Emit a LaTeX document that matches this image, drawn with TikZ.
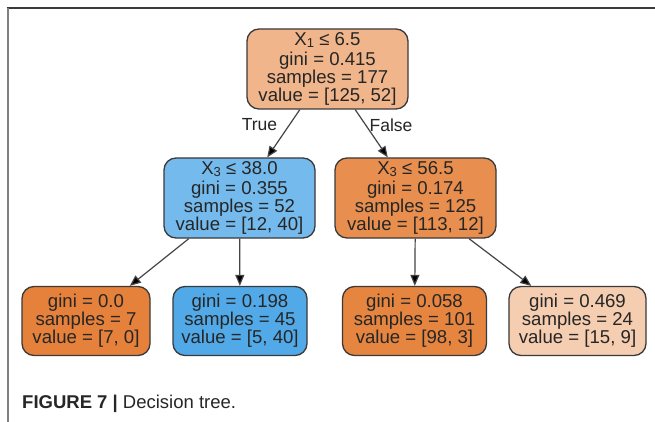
\documentclass[tikz,border=0pt]{standalone}
\usepackage{fontspec}
\setmainfont{Liberation Sans}
\usetikzlibrary{arrows.meta}
\definecolor{croot}{HTML}{F0B58B}
\definecolor{cleft}{HTML}{74BAED}
\definecolor{cright}{HTML}{E88E4E}
\definecolor{cla}{HTML}{E5813A}
\definecolor{clb}{HTML}{52A9E8}
\definecolor{clc}{HTML}{E6853F}
\definecolor{cld}{HTML}{F5CDB0}
\definecolor{bordc}{HTML}{3A3A3A}
\definecolor{txtc}{HTML}{262626}
\definecolor{edgec}{HTML}{444444}
\newcommand{\subnum}[1]{\raisebox{-2pt}{\fontsize{13}{13}\selectfont #1}}
\begin{document}
\begin{tikzpicture}[x=1pt,y=-1pt,
  tn/.style={draw=bordc, line width=1.3pt, rounded corners=12pt, align=center,
    font=\fontsize{18.6}{18}\selectfont, text=txtc, inner sep=0pt, minimum height=80pt},
  leafbox/.style={tn, minimum height=69pt},
  arr/.style={draw=edgec, line width=1.2pt, -{Triangle[length=11pt,width=9pt,fill=black]}},
  elabel/.style={font=\fontsize{17.5}{17.5}\selectfont, text=txtc, inner sep=0pt}
]
\useasboundingbox (0,0) rectangle (655,422);
\fill[white] (0,0) rectangle (655,422);
\draw[line width=1.5pt, color=bordc] (6.5,8) -- (655,8);
\draw[line width=2pt, color=gray] (7.5,8) -- (7.5,422);

\node[tn, fill=croot, minimum width=161pt] (root) at (327.5,69)
  {X\subnum{1} ≤ 6.5\\[1.5pt]gini = 0.415\\samples = 177\\value = [125, 52]};
\node[tn, fill=cleft, minimum width=151pt] (left) at (239.5,198)
  {X\subnum{3} ≤ 38.0\\[1.5pt]gini = 0.355\\samples = 52\\value = [12, 40]};
\node[tn, fill=cright, minimum width=161pt] (right) at (415.5,198)
  {X\subnum{3} ≤ 56.5\\[1.5pt]gini = 0.174\\samples = 125\\value = [113, 12]};
\node[leafbox, fill=cla, minimum width=128pt] (la) at (86,321)
  {gini = 0.0\\samples = 7\\value = [7, 0]};
\node[leafbox, fill=clb, minimum width=134pt] (lb) at (240,321)
  {gini = 0.198\\samples = 45\\value = [5, 40]};
\node[leafbox, fill=clc, minimum width=144pt] (lc) at (414.5,321)
  {gini = 0.058\\samples = 101\\value = [98, 3]};
\node[leafbox, fill=cld, minimum width=137pt] (ld) at (577.5,321)
  {gini = 0.469\\samples = 24\\value = [15, 9]};

\draw[arr] (root) -- (left);
\draw[arr] (root) -- (right);
\draw[arr] (left) -- (la);
\draw[arr] (left) -- (lb);
\draw[arr] (right) -- (lc);
\draw[arr] (right) -- (ld);

\node[elabel] (tlab) at (259.5,125) {True};
\node[elabel] (flab) at (391,125) {False};

\node[anchor=base west, inner sep=0pt, text=txtc, font=\fontsize{18.5}{18.5}\selectfont] (cap) at (22,408)
  {\textbf{FIGURE 7 |} Decision tree.};
\end{tikzpicture}
\end{document}
